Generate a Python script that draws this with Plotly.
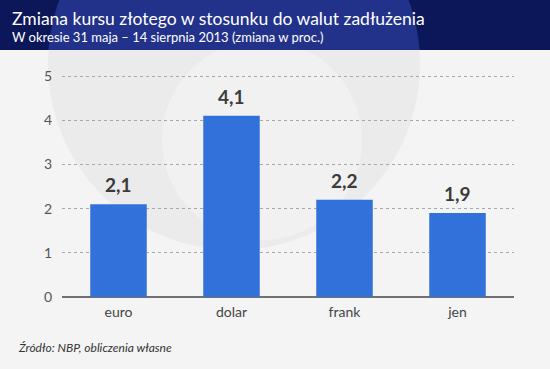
import numpy as np
import plotly.graph_objects as go

categories = ["euro", "dolar", "frank", "jen"]
values = [2.1, 4.1, 2.2, 1.9]
y_ticks = [0, 1, 2, 3, 4, 5]
title = "Zmiana kursu złotego w stosunku do walut zadłużenia"
subtitle = "W okresie 31 maja – 14 sierpnia 2013 (zmiana w proc.)"
source = "Źródło: NBP, obliczenia własne"

W, H = 550, 369
L, R, T, B = 62, 36, 70, 72
PW, PH = W - L - R, H - T - B
YMAX = 5 + 6 / 44.2

def px(x):
    return (x - L) / PW

def py(y):
    return (H - B - y) / PH

def circle_path(cx, cy, r, ymin=None, ymax=None, n=180):
    t = np.linspace(0, 2 * np.pi, n, endpoint=False)
    xs = cx + r * np.cos(t)
    ys = cy + r * np.sin(t)
    if ymin is not None:
        ys = np.maximum(ys, ymin)
    if ymax is not None:
        ys = np.minimum(ys, ymax)
    pts = [f"{px(a):.5f},{py(b):.5f}" for a, b in zip(xs, ys)]
    return "M" + "L".join(pts) + "Z"

HEADER = 50
shapes = [
    dict(type="rect", xref="paper", yref="paper", x0=px(0), x1=px(W), y0=py(HEADER), y1=py(H),
         fillcolor="#f4f4f4", line_width=0, layer="below"),
    dict(type="path", xref="paper", yref="paper", path=circle_path(234, 64, 186, ymin=HEADER),
         fillcolor="#ebebeb", line_width=0, layer="below"),
    dict(type="path", xref="paper", yref="paper", path=circle_path(262, 140, 100, ymin=HEADER),
         fillcolor="#f1f1f1", line_width=0, layer="below"),
    dict(type="rect", xref="paper", yref="paper", x0=px(0), x1=px(W), y0=py(0), y1=py(HEADER),
         fillcolor="#0c175a", line_width=0, layer="below"),
    dict(type="path", xref="paper", yref="paper", path=circle_path(234, 64, 186, ymax=HEADER),
         fillcolor="#22328a", line_width=0, layer="below"),
]

fig = go.Figure(go.Bar(
    x=categories, y=values, marker=dict(color="#3271da", line_width=0),
    hoverinfo="skip",
))

annotations = [
    dict(x=c, y=v, xref="x", yref="y", text=f"{v:.1f}".replace(".", ","),
         showarrow=False, yanchor="bottom", yshift=6,
         font=dict(family="Lato", size=19, color="#3b3b3b", weight="bold"))
    for c, v in zip(categories, values)
]
annotations += [
    dict(x=px(10), y=py(18), xref="paper", yref="paper", text=title, showarrow=False,
         xanchor="left", yanchor="middle", font=dict(family="Lato", size=17.5, color="white")),
    dict(x=px(10), y=py(37), xref="paper", yref="paper", text=subtitle, showarrow=False,
         xanchor="left", yanchor="middle", font=dict(family="Lato", size=13, color="white")),
    dict(x=px(16), y=py(347), xref="paper", yref="paper", text=f"<i>{source}</i>", showarrow=False,
         xanchor="left", yanchor="middle", font=dict(family="Lato", size=12, color="#333333")),
]

fig.update_layout(
    width=W, height=H,
    margin=dict(l=L, r=R, t=T, b=B, pad=0),
    paper_bgcolor="#f4f4f4",
    plot_bgcolor="rgba(0,0,0,0)",
    bargap=0.5,
    showlegend=False,
    separators=", ",
    shapes=shapes,
    annotations=annotations,
    font=dict(family="Lato", color="#555555"),
)
fig.update_yaxes(
    range=[0, YMAX], tickvals=y_ticks, showgrid=True, gridcolor="#a8a8a8",
    griddash="dot", gridwidth=1, zeroline=True, zerolinecolor="#707070", zerolinewidth=1.5,
    ticks="", ticklabelstandoff=9, tickfont=dict(family="Lato", size=14, color="#555555"),
    showline=False,
)
fig.update_xaxes(
    showgrid=False, showline=False, ticks="", ticklabelstandoff=5,
    tickfont=dict(family="Lato", size=14, color="#444444"),
)

fig.write_html(
    "out.html",
    config={"displayModeBar": False},
    post_script="document.body.style.margin='0';document.body.style.overflow='hidden';",
)
